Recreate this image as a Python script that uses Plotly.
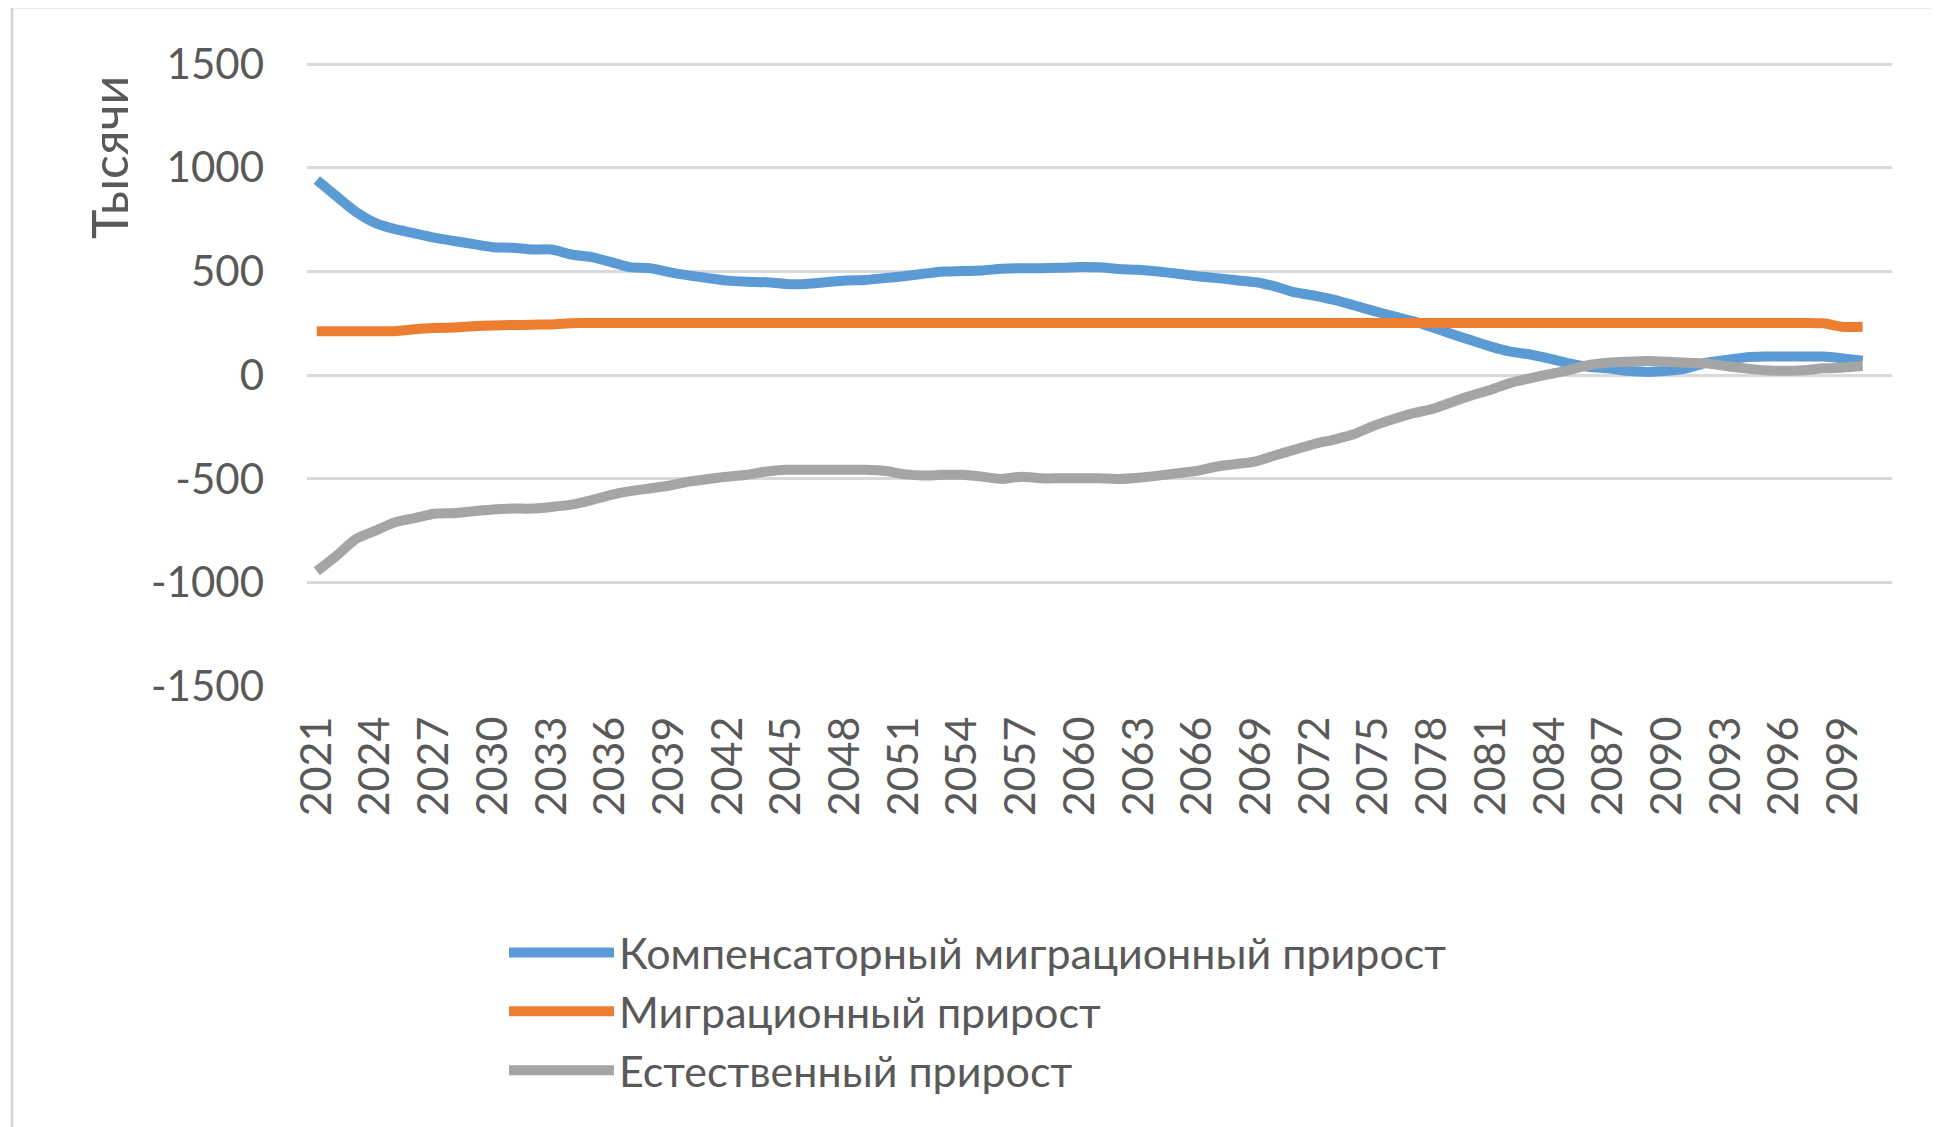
import plotly.graph_objects as go

years = list(range(2021, 2101))

compensatory = [941, 863, 787, 733, 704, 684, 663, 647, 632, 617,
                614, 606, 606, 582, 570, 546, 521, 516, 497, 481,
                468, 456, 451, 448, 440, 440, 448, 456, 459, 468,
                477, 489, 500, 502, 505, 513, 516, 516, 518, 522,
                520, 512, 508, 500, 489, 477, 468, 458, 448, 427,
                399, 383, 363, 337, 310, 285, 261, 231, 199, 168,
                138, 114, 100, 80, 57, 41, 33, 21, 16, 21,
                33, 60, 73, 86, 90, 90, 90, 90, 81, 70]

migration = [212, 212, 212, 212, 212, 222, 228, 230, 236, 240,
             242, 243, 245, 250, 252, 252, 252, 252, 252, 252,
             252, 252, 252, 252, 252, 252, 252, 252, 252, 252,
             252, 252, 252, 252, 252, 252, 252, 252, 252, 252,
             252, 252, 252, 252, 252, 252, 252, 252, 252, 252,
             252, 252, 252, 252, 252, 252, 252, 252, 252, 252,
             252, 252, 252, 252, 252, 252, 252, 252, 252, 252,
             252, 252, 252, 252, 252, 252, 252, 250, 233, 233]

natural = [-945, -871, -790, -749, -709, -689, -668, -665, -656, -647,
           -643, -643, -635, -624, -603, -578, -559, -546, -533, -513,
           -500, -489, -480, -464, -456, -456, -456, -456, -456, -461,
           -477, -484, -480, -480, -489, -500, -489, -497, -497, -497,
           -497, -500, -494, -484, -472, -461, -440, -428, -415, -386,
           -358, -331, -310, -285, -244, -212, -184, -163, -130, -98,
           -70, -37, -15, 5, 25, 49, 60, 65, 68, 65,
           60, 57, 44, 33, 24, 21, 24, 33, 37, 44]

series_names = ["Компенсаторный миграционный прирост",
                "Миграционный прирост",
                "Естественный прирост"]
series_colors = ["#5B9BD5", "#ED7D31", "#A5A5A5"]

tick_years = list(range(2021, 2100, 3))
tick_labels = [str(y) for y in tick_years]

y_ticks = [-1500, -1000, -500, 0, 500, 1000, 1500]
y_tick_labels = ["-1500", "-1000", "-500", "0", "500", "1000", "1500"]

# page offset (HTML body margin) handled by working in figure coords
OFF = 8
W, H = 1939, 1127
# target screen-space plot box: x 307..1892, y 63..687
L = 307 - OFF
T = 63 - OFF
R = W - (1892 - OFF)
B = H - (687 - OFF)
PW, PH = W - L - R, H - T - B


def px_x(sx):
    return (sx - OFF - L) / PW


def px_y(sy):
    return (H - B - (sy - OFF)) / PH


FONT = "Lato, 'Open Sans', sans-serif"
TXT = "#595959"

fig = go.Figure()
for name, vals, col in zip(series_names, [compensatory, migration, natural], series_colors):
    fig.add_trace(go.Scatter(x=years, y=vals, mode="lines", name=name,
                             line=dict(color=col, width=10, shape="spline", smoothing=0.6)))

fig.update_layout(
    width=W, height=H,
    margin=dict(l=L, r=R, t=T, b=B, autoexpand=False),
    paper_bgcolor="white", plot_bgcolor="white",
    font=dict(family=FONT, color=TXT),
    showlegend=True,
    legend=dict(x=px_x(504), y=px_y(918), xanchor="left", yanchor="top",
                font=dict(size=43, color=TXT, family=FONT),
                itemwidth=105, tracegroupgap=0, bgcolor="rgba(0,0,0,0)"),
    xaxis=dict(range=[2020.5, 2101.5], tickmode="array", tickvals=tick_years,
               ticktext=tick_labels, tickangle=-90, showgrid=False, zeroline=False,
               showline=False, ticks="", tickfont=dict(size=43, color=TXT, family=FONT),
               ticklabelstandoff=20),
    yaxis=dict(range=[-1503, 1505], tickmode="array", tickvals=y_ticks,
               ticktext=y_tick_labels,
               showgrid=True, gridcolor="#D9D9D9", gridwidth=2.5, zeroline=False,
               showline=False, ticks="", tickfont=dict(size=42, color=TXT, family=FONT),
               ticklabelstandoff=42),
    annotations=[dict(text="Тысячи", textangle=-90, xref="paper", yref="paper",
                      x=px_x(109), y=px_y(158), xanchor="center", yanchor="middle",
                      showarrow=False, font=dict(size=50, color=TXT, family=FONT))],
    shapes=[
        dict(type="line", xref="paper", yref="paper", x0=px_x(12), x1=px_x(1960),
             y0=px_y(7), y1=px_y(7), line=dict(color="#D9D9D9", width=3)),
        dict(type="line", xref="paper", yref="paper", x0=px_x(12), x1=px_x(12),
             y0=px_y(7), y1=px_y(1140), line=dict(color="#D9D9D9", width=3)),
    ],
)

fig.write_html("out.html")
